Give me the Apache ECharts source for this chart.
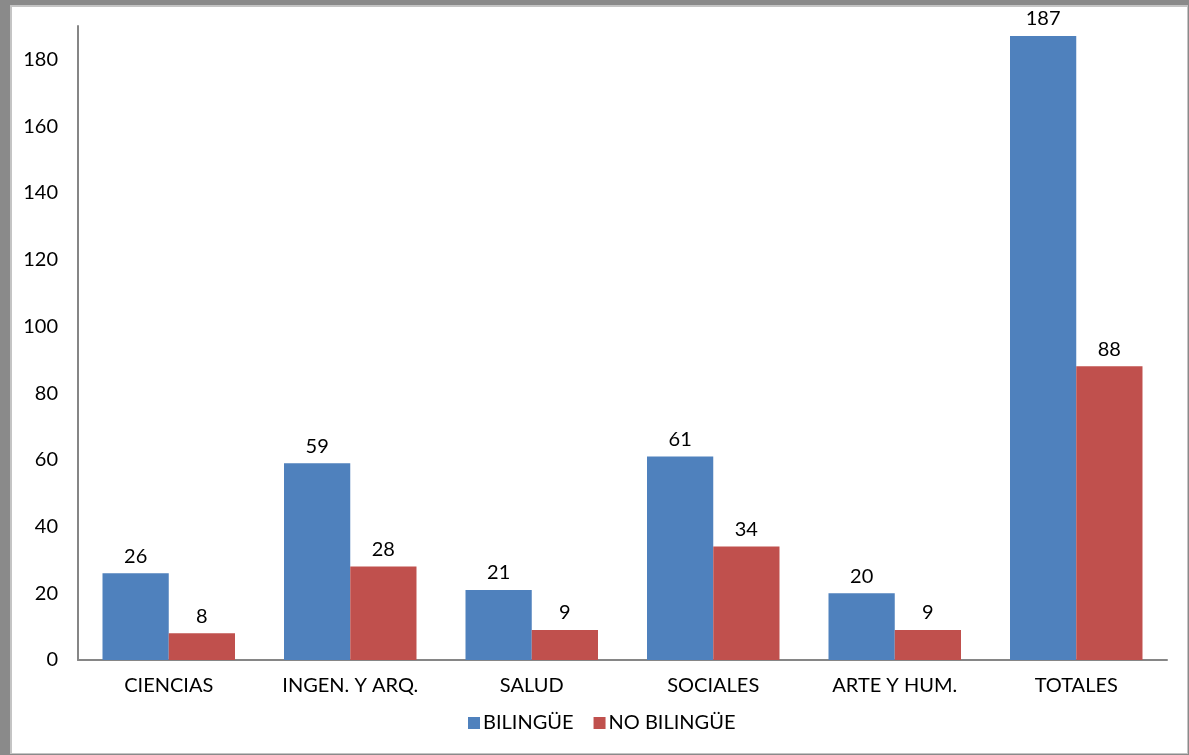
<!DOCTYPE html>
<html>
<head>
<meta charset="utf-8">
<script src="https://cdn.jsdelivr.net/npm/echarts@6/dist/echarts.min.js"></script>
<style>
  body { margin: 0; }
  #frame { position: absolute; left: 0; top: 0; width: 1189px; height: 755px; background: #8a8a8a; }
  #inner { position: absolute; left: 10px; top: 5px; width: 1175px; height: 746px; background: #fff; border: 1px solid #c4c4c4; border-left-width: 2px; border-top-width: 2px; }
  #chart { position: absolute; left: 0; top: 0; width: 1189px; height: 755px; }
</style>
</head>
<body>
<div id="frame"><div id="inner"></div></div>
<div id="chart"></div>
<script>
// categorías y valores
var categories = ['CIENCIAS', 'INGEN. Y ARQ.', 'SALUD', 'SOCIALES', 'ARTE Y HUM.', 'TOTALES'];
var bilingue = [26, 59, 21, 61, 20, 187];
var noBilingue = [8, 28, 9, 34, 9, 88];
var yTicks = [0, 20, 40, 60, 80, 100, 120, 140, 160, 180];

var myChart = echarts.init(document.getElementById('chart'));
var fontFam = 'Lato, sans-serif';

var option = {
    backgroundColor: 'rgba(0,0,0,0)',
    animation: false,
    color: ['#4F81BD', '#C0504D'],
    grid: { left: 78, right: 22, top: 26, bottom: 95 },
    legend: {
        bottom: 17,
        left: 463,
        icon: 'rect',
        itemWidth: 12,
        itemHeight: 12,
        itemGap: 20,
        textStyle: { color: '#000', fontSize: 20, fontFamily: fontFam, padding: [0, 0, 0, -2] },
        data: ['BILINGÜE', 'NO BILINGÜE']
    },
    xAxis: {
        type: 'category',
        data: categories,
        axisLine: { lineStyle: { color: '#868686', width: 2 } },
        axisTick: { show: false },
        axisLabel: { color: '#000', fontSize: 20, fontFamily: fontFam, margin: 16 }
    },
    yAxis: {
        type: 'value',
        min: 0,
        max: 190,
        interval: 20,
        axisLine: { show: true, lineStyle: { color: '#868686', width: 2 } },
        axisTick: { show: false },
        splitLine: { show: false },
        axisLabel: {
            color: '#000', fontSize: 20, fontFamily: fontFam, margin: 20,
            formatter: function (v) { return yTicks.indexOf(v) >= 0 ? v : ''; }
        }
    },
    series: [{
        name: 'BILINGÜE',
        type: 'bar',
        data: bilingue,
        barGap: '0%',
        barCategoryGap: '27%',
        label: { show: true, position: 'top', color: '#000', fontSize: 20, fontFamily: fontFam, distance: 7 }
    }, {
        name: 'NO BILINGÜE',
        type: 'bar',
        data: noBilingue,
        barGap: '0%',
        barCategoryGap: '27%',
        label: { show: true, position: 'top', color: '#000', fontSize: 20, fontFamily: fontFam, distance: 7 }
    }]
};
myChart.setOption(option);
</script>
</body>
</html>
